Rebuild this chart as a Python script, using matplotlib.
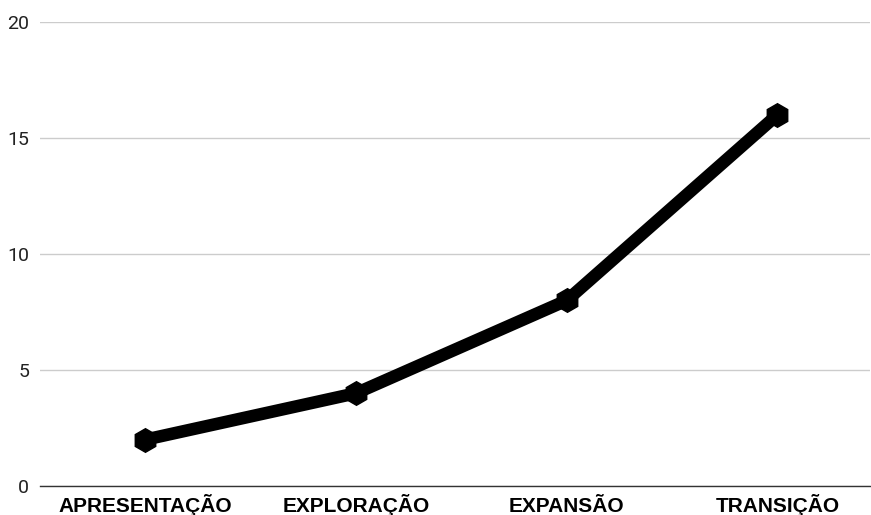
import matplotlib.pyplot as plt

stages = ["APRESENTAÇÃO", "EXPLORAÇÃO", "EXPANSÃO", "TRANSIÇÃO"]
values = [2, 4, 8, 16]
yticks = [0, 5, 10, 15, 20]

fig = plt.figure(figsize=(8.71, 5.15), dpi=100)
ax = fig.add_axes([0.046, 0.0563, 0.953, 0.9010])

x = list(range(len(stages)))
ax.plot(x, values, color="black", linewidth=9, marker="h", markersize=17,
        solid_joinstyle="round", zorder=3)

ax.set_ylim(0, 20)
ax.set_xlim(-0.5, 3.44)
ax.set_yticks(yticks)
ax.set_yticklabels([str(v) for v in yticks], family="Roboto", fontsize=14, color="#222222")
ax.set_xticks(x)
ax.set_xticklabels(stages, family="Liberation Sans", fontweight="bold", fontsize=15, color="black")
for lab in ax.get_xticklabels():
    lab.set_va("baseline")
ax.tick_params(axis="both", length=0)
ax.tick_params(axis="y", pad=8)
ax.tick_params(axis="x", pad=19)

ax.grid(axis="y", color="#cccccc", linewidth=1)
ax.set_axisbelow(True)
for side in ["top", "right", "left"]:
    ax.spines[side].set_visible(False)
ax.spines["bottom"].set_color("#333333")
ax.spines["bottom"].set_linewidth(1)

fig.savefig("out.png", dpi=100)
